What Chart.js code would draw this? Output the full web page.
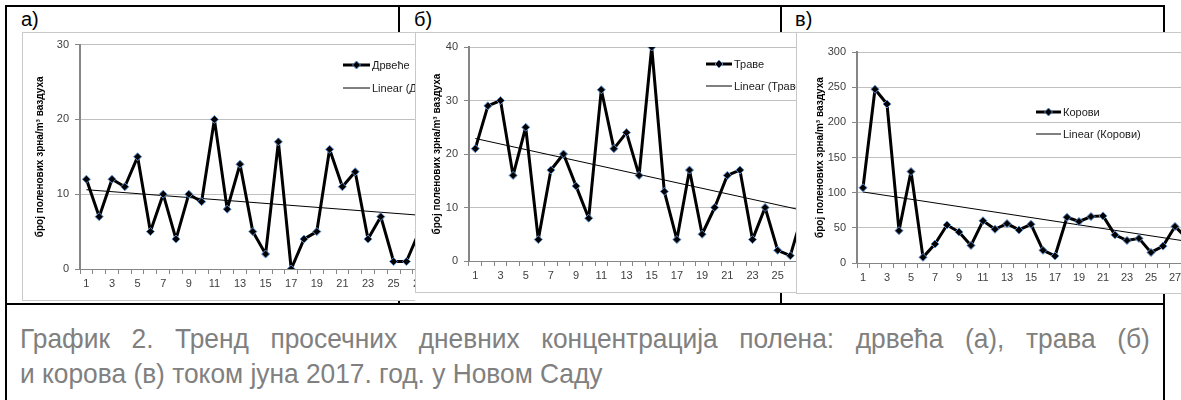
<!DOCTYPE html>
<html>
<head>
<meta charset="utf-8">
<script src="https://cdn.jsdelivr.net/npm/chart.js@4.4.1/dist/chart.umd.min.js"></script>
<style>
  html, body { margin: 0; padding: 0; background: #fff; overflow: hidden; width: 1181px; height: 400px; }
  body { position: relative; font-family: "Liberation Sans", Arial, sans-serif; }
  .frame { position: absolute; left: 5px; top: 5px; width: 1160px; height: 430px; border: 2px solid #000; box-sizing: border-box; }
  .hline { position: absolute; left: 5px; top: 303px; width: 1160px; height: 2px; background: #000; }
  .vline { position: absolute; top: 5px; width: 2px; height: 300px; background: #000; }
  .tag { position: absolute; top: 8px; font-size: 20px; color: #000; }
  .pic { position: absolute; top: 32px; overflow: hidden; background: #fff; border: 1px solid #c9c9c9; border-right: none; box-sizing: border-box; }
  .pic canvas { position: absolute; left: -1px; top: -1px; }
  .caption { position: absolute; left: 20px; font-size: 28px; line-height: 35px; color: #808080; white-space: nowrap;
             transform: scaleX(0.94); transform-origin: 0 0; }
  .just { width: 1202px; text-align: justify; text-align-last: justify; }
</style>
</head>
<body>
<div class="frame"></div>
<div class="hline"></div>
<div class="vline" style="left:398px"></div>
<div class="vline" style="left:780px"></div>
<div class="tag" style="left:21px">а)</div>
<div class="tag" style="left:414px">б)</div>
<div class="tag" style="left:795px">в)</div>

<div class="pic" style="left:22px;width:393px;height:269px"><canvas id="chartA" width="480" height="268"></canvas></div>
<div class="pic" style="left:415px;width:381px;height:261px"><canvas id="chartB" width="452" height="260"></canvas></div>
<div class="pic" style="left:796px;width:400px;height:262px"><canvas id="chartC" width="441" height="261"></canvas></div>

<div class="caption just" style="top:321px">График 2. Тренд просечних дневних концентрација полена: дрвећа (а), трава (б)</div>
<div class="caption" style="top:356px">и корова (в) током јуна 2017. год. у Новом Саду</div>

<script>
// days of June 2017
const days = [1,2,3,4,5,6,7,8,9,10,11,12,13,14,15,16,17,18,19,20,21,22,23,24,25,26,27,28,29,30];

// pollen grains / m3 (values past the cut edge of each picture are unknown)
const trees = [12,7,12,11,15,5,10,4,10,9,20,8,14,5,2,17,0,4,5,16,11,13,4,7,1,1,5,null,null,null];
const grasses = [21,29,30,16,25,4,17,20,14,8,32,21,24,16,40,13,4,17,5,10,16,17,4,10,2,1,9,null,null,null];
const weeds = [107,247,226,46,130,8,27,54,44,25,60,48,56,47,55,18,10,65,59,66,67,40,32,35,15,24,52,35,null,null];

// linear trend: value at first and last day
const treesTrend = [10.6, 6.8];
const grassesTrend = [22.9, 7.9];
const weedsTrend = [101, 25.6];

const yTicksA = [0, 30, 10];
const yTicksB = [0, 40, 10];
const yTicksC = [0, 300, 50];

const AXIS = '#868686', GRID = '#c0c0c0', TXT = '#404040';
const FONT = '"Liberation Sans", Arial, sans-serif';

// Excel-like legend drawn over the plot
const boxLegend = {
  id: 'boxLegend',
  afterDraw(chart, args, o) {
    const ctx = chart.ctx;
    chart.data.datasets.forEach((ds, i) => {
      const y = o.y + i * o.gap;
      ctx.save();
      ctx.strokeStyle = '#000';
      ctx.lineWidth = ds.borderWidth;
      ctx.beginPath(); ctx.moveTo(o.x, y); ctx.lineTo(o.x + o.len, y); ctx.stroke();
      if (ds.pointRadius > 0) {
        const cx = o.x + o.len / 2, r = ds.pointRadius;
        ctx.beginPath();
        ctx.moveTo(cx, y - r); ctx.lineTo(cx + r, y); ctx.lineTo(cx, y + r); ctx.lineTo(cx - r, y); ctx.closePath();
        ctx.fillStyle = '#000'; ctx.fill();
        ctx.lineWidth = 1; ctx.strokeStyle = ds.pointBorderColor; ctx.stroke();
      }
      ctx.fillStyle = '#1a1a1a';
      ctx.font = '11px ' + FONT;
      ctx.textBaseline = 'middle';
      ctx.fillText(ds.label, o.x + o.len + 2, y + 1);
      ctx.restore();
    });
  }
};

function makeChart(id, name, values, trend, yt, box) {
  new Chart(document.getElementById(id), {
    type: 'line',
    data: {
      labels: days,
      datasets: [
        {
          label: name,
          data: values,
          borderColor: '#000',
          borderWidth: 3,
          borderJoinStyle: 'round',
          borderCapStyle: 'round',
          pointStyle: 'rectRot',
          pointRadius: 4,
          pointBackgroundColor: '#000',
          pointBorderColor: '#5b8fd0',
          pointBorderWidth: 1,
          tension: 0,
          spanGaps: false
        },
        {
          label: 'Linear (' + name + ')',
          data: days.map((d, i) => i === 0 ? trend[0] : (i === days.length - 1 ? trend[1] : null)),
          borderColor: '#000',
          borderWidth: 1,
          pointRadius: 0,
          spanGaps: true
        }
      ]
    },
    options: {
      responsive: false,
      animation: false,
      devicePixelRatio: 1,
      layout: { padding: { top: box.top, right: box.right, bottom: 0, left: 0 } },
      plugins: {
        legend: { display: false },
        tooltip: { enabled: false },
        boxLegend: box.legend
      },
      scales: {
        x: {
          type: 'category',
          offset: true,
          afterFit: s => { s.height = box.xh; },
          grid: { drawOnChartArea: false, offset: true, tickLength: 5, color: AXIS },
          border: { color: AXIS, width: 1 },
          ticks: {
            autoSkip: false, maxRotation: 0, padding: 3,
            color: TXT, font: { family: FONT, size: 11 },
            callback: (v, i) => (i % 2 === 0 ? days[i] : '')
          }
        },
        y: {
          min: yt[0], max: yt[1],
          afterFit: s => { s.width = box.yw; },
          grid: { color: GRID, tickColor: AXIS, tickLength: 5 },
          border: { color: AXIS, width: 2 },
          ticks: { stepSize: yt[2], padding: 6, color: TXT, font: { family: FONT, size: 11 } },
          title: {
            display: true,
            text: 'број поленових зрна/m³ ваздуха',
            color: '#000',
            font: { family: FONT, size: 10, weight: 'bold' },
            padding: { top: box.tp, bottom: 0 }
          }
        }
      }
    },
    plugins: [boxLegend]
  });
}

makeChart('chartA', 'Дрвеће', trees, treesTrend, yTicksA,
  { top: 8, right: 38, xh: 31, yw: 58, tp: 12, legend: { x: 321, y: 33, gap: 23, len: 27 } });
makeChart('chartB', 'Траве', grasses, grassesTrend, yTicksB,
  { top: 15, right: 20, xh: 31, yw: 54, tp: 16, legend: { x: 291, y: 32, gap: 22, len: 26 } });
makeChart('chartC', 'Корови', weeds, weedsTrend, yTicksC,
  { top: 20, right: 20, xh: 30, yw: 61, tp: 18, legend: { x: 240, y: 80, gap: 22, len: 25 } });
</script>
</body>
</html>
